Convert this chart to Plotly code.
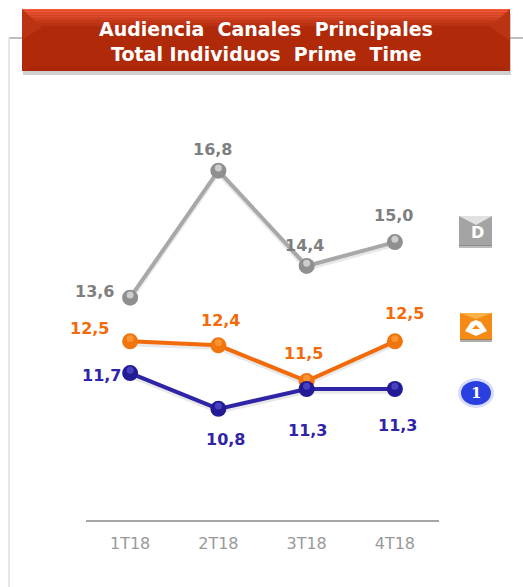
import plotly.graph_objects as go

W, H = 523, 587
categories = ["1T18", "2T18", "3T18", "4T18"]
gris = [13.6, 16.8, 14.4, 15.0]
naranja = [12.5, 12.4, 11.5, 12.5]
azul = [11.7, 10.8, 11.3, 11.3]
title_lines = ["Audiencia  Canales  Principales", "Total Individuos  Prime  Time"]

# label offsets in px from each point (dx, dy up)
off_gris = [(-36, 6), (-6, 21), (-2, 20), (-1, 27)]
off_naranja = [(-41, 13), (2, 25), (-3, 28), (10, 28)]
off_azul = [(-29, -2), (7, -31), (1, -41), (3, -36)]

L, R, T, B = 86, 439, 100, 520


def px(x):
    return x / W


def py(y):
    return 1 - y / H


def rect(x0, y0, x1, y1, color, **kw):
    return dict(type="rect", xref="paper", yref="paper", x0=px(x0), x1=px(x1),
                y0=py(y1), y1=py(y0), fillcolor=color, line=dict(width=0), layer="below", **kw)


def poly(points, color):
    path = "M " + " L ".join(f"{px(a):.5f},{py(b):.5f}" for a, b in points) + " Z"
    return dict(type="path", xref="paper", yref="paper", path=path, fillcolor=color,
                line=dict(width=0), layer="below")


def line(x0, y0, x1, y1, color, width=1):
    return dict(type="line", xref="paper", yref="paper", x0=px(x0), x1=px(x1), y0=py(y0), y1=py(y1),
                line=dict(color=color, width=width), layer="below")


def mix(a, b, t):
    return "rgb(" + ",".join(str(round(a[i] + (b[i] - a[i]) * t)) for i in range(3)) + ")"


def label(x, y, text, size, color="white", family="DejaVu Sans"):
    return dict(xref="paper", yref="paper", x=px(x), y=py(y), text=text, showarrow=False,
                xanchor="center", yanchor="middle",
                font=dict(family=family, size=size, color=color, weight="bold"))


fig = go.Figure()
series = [
    ("Telecinco", gris, off_gris, "#a8a8a8", "#8f8f8f", "#7f7f7f", "rgba(225,225,225,0.75)"),
    ("Antena 3", naranja, off_naranja, "#f26a0a", "#f0750c", "#f26a0a", "rgba(252,160,70,0.7)"),
    ("La 1", azul, off_azul, "#2f24a8", "#231a96", "#2f24a8", "rgba(90,84,210,0.7)"),
]
annotations = []
for name, vals, offs, lc, mc, tc, hi in series:
    fig.add_trace(go.Scatter(x=categories, y=[v - 0.07 for v in vals], mode="lines",
                             line=dict(color="rgba(90,90,90,0.14)", width=4),
                             hoverinfo="skip", showlegend=False))
    fig.add_trace(go.Scatter(
        x=categories, y=vals, mode="lines+markers", name=name, showlegend=False,
        line=dict(color=lc, width=4),
        marker=dict(size=16, color=mc, line=dict(width=0)),
    ))
    fig.add_trace(go.Scatter(x=categories, y=[v + 0.07 for v in vals], mode="markers",
                             marker=dict(size=7, color=hi, line=dict(width=0)),
                             hoverinfo="skip", showlegend=False))
    for c, v, (dx, dy) in zip(categories, vals, offs):
        annotations.append(dict(x=c, y=v, xref="x", yref="y", text=f"{v:.1f}".replace(".", ","),
                                showarrow=False, xshift=dx, yshift=dy,
                                xanchor="center", yanchor="middle",
                                font=dict(family="DejaVu Sans", size=16, color=tc, weight="bold")))

shapes = []
# page frame
shapes.append(line(9, 38, 22, 38, "#a8a8a8", 1.5))
shapes.append(line(510, 38, 523, 38, "#a8a8a8", 1.5))
shapes.append(line(9, 38, 9, 587, "#e6e6e6", 2))

# title banner
bx0, by0, bx1, by1 = 22, 9, 510, 71
shapes.append(rect(bx0 + 1, by0 + 4, bx1 + 1, by1 + 4, "rgba(120,120,120,0.35)"))
shapes.append(rect(bx0, by0, bx1, by1, "#b02a0a"))
top_a, top_b = (244, 92, 60), (176, 42, 12)
strips = 12
for i in range(strips):
    y = by0 + i * 1.6
    shapes.append(rect(bx0, y, bx1, y + 1.6, mix(top_a, top_b, i / (strips - 1))))
shapes.append(poly([(bx0, by0), (bx0 + 20, by0 + 18), (bx0, by0 + 31)], "#bb3412"))
shapes.append(poly([(bx1, by0), (bx1 - 20, by0 + 18), (bx1, by0 + 31)], "#bb3412"))
shapes.append(poly([(bx0, by1), (bx0 + 10, by1 - 5), (bx1 - 10, by1 - 5), (bx1, by1)], "#a92608"))

# channel logos
shapes.append(rect(459, 216, 492, 246, "#a4a4a4"))
shapes.append(poly([(459, 216), (492, 216), (476, 225)], "#e2e2e2"))
shapes.append(rect(459, 245, 492, 248, "rgba(120,120,120,0.5)"))
shapes.append(rect(460, 313, 492, 340, "#f58a14"))
shapes.append(poly([(460, 313), (492, 313), (476, 319)], "#fbb24a"))
shapes.append(rect(460, 339, 492, 342, "rgba(120,120,120,0.6)"))
shapes.append(poly([(476, 320), (481, 322), (487, 331), (476, 336), (465, 331), (471, 322)], "#ffffff"))
shapes.append(poly([(476, 325), (480, 329), (472, 329)], "#f58a14"))
shapes.append(dict(type="circle", xref="paper", yref="paper", x0=px(458), x1=px(494), y0=py(408), y1=py(378),
                   fillcolor="rgba(120,140,245,0.3)", line=dict(width=0), layer="below"))
shapes.append(dict(type="circle", xref="paper", yref="paper", x0=px(461), x1=px(491), y0=py(405), y1=py(381),
                   fillcolor="#2a3fe0", line=dict(width=0), layer="below"))

annotations += [
    label(266, 29, title_lines[0], 19),
    label(266, 54, title_lines[1], 19),
    label(477, 233, "D", 16),
    label(476, 393, "1", 15, family="DejaVu Serif"),
]

fig.update_layout(
    width=W, height=H, autosize=False,
    margin=dict(l=0, r=0, t=0, b=0, pad=0),
    paper_bgcolor="white", plot_bgcolor="rgba(0,0,0,0)",
    shapes=shapes, annotations=annotations, showlegend=False,
    font=dict(family="DejaVu Sans"),
    xaxis=dict(domain=[px(L), px(R)], type="category", range=[-0.5, 3.5], showgrid=False, zeroline=False,
               showline=True, linecolor="#a6a6a6", linewidth=1.5, ticks="", ticklen=0, ticklabelstandoff=8,
               tickfont=dict(family="DejaVu Sans", size=16, color="#999999"), anchor="y"),
    yaxis=dict(domain=[py(B), py(T)], range=[8, 18.58], visible=False, anchor="x"),
)
fig.write_html("out.html", config=dict(displayModeBar=False),
               post_script="document.body.style.margin='0';document.documentElement.style.overflow='hidden';")
